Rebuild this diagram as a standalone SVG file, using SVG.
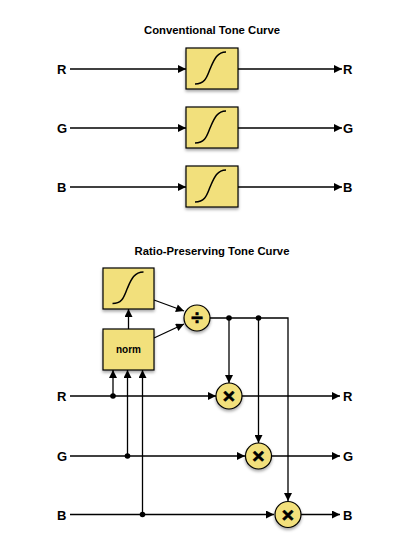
<svg xmlns="http://www.w3.org/2000/svg" width="404" height="535" viewBox="0 0 404 535">
<defs>
<marker id="ah" viewBox="0 0 10 10" refX="10" refY="5" markerWidth="10" markerHeight="8" markerUnits="userSpaceOnUse" orient="auto"><path d="M0,0 L10,5 L0,10 z" fill="#000"/></marker>
<filter id="sh" x="-30%" y="-30%" width="160%" height="170%"><feDropShadow dx="0" dy="2" stdDeviation="1.5" flood-color="#000" flood-opacity="0.35"/></filter>
<style>
.box{fill:#f2e07b;stroke:#000;stroke-width:1.2;filter:url(#sh)}
.crv{fill:none;stroke:#000;stroke-width:1.5}
.ln{fill:none;stroke:#000;stroke-width:1.3}
.arr{marker-end:url(#ah)}
.dot{fill:#000}
.t{font-family:"Liberation Sans",Arial,sans-serif;font-weight:bold;fill:#000}
.title{font-size:11.3px;text-anchor:middle}
.lbl{font-size:13px}
.op{font-size:21px;text-anchor:middle;stroke:#000;stroke-width:0.6}
</style>
</defs>
<text class="t title" x="212" y="34">Conventional Tone Curve</text>
<text class="t title" x="212" y="255">Ratio-Preserving Tone Curve</text>
<g id="connectors">
<line class="ln arr" x1="70" y1="69" x2="186" y2="69"/>
<line class="ln arr" x1="238" y1="69" x2="342" y2="69"/>
<line class="ln arr" x1="70" y1="128" x2="186" y2="128"/>
<line class="ln arr" x1="238" y1="128" x2="342" y2="128"/>
<line class="ln arr" x1="70" y1="187" x2="186" y2="187"/>
<line class="ln arr" x1="238" y1="187" x2="342" y2="187"/>
<line class="ln arr" x1="128.5" y1="329" x2="128.5" y2="309"/>
<line class="ln arr" x1="154" y1="300" x2="184" y2="311"/>
<line class="ln arr" x1="154" y1="338" x2="184" y2="324"/>
<polyline class="ln arr" points="210,318 288,318 288,501"/>
<line class="ln arr" x1="229" y1="318" x2="229" y2="383"/>
<line class="ln arr" x1="258.5" y1="318" x2="258.5" y2="443"/>
<line class="ln arr" x1="70" y1="396" x2="216" y2="396"/>
<line class="ln arr" x1="242" y1="396" x2="340" y2="396"/>
<line class="ln arr" x1="70" y1="456" x2="245" y2="456"/>
<line class="ln arr" x1="271" y1="456" x2="340" y2="456"/>
<line class="ln arr" x1="70" y1="514.5" x2="274" y2="514.5"/>
<line class="ln arr" x1="300" y1="514.5" x2="340" y2="514.5"/>
<line class="ln arr" x1="113" y1="396" x2="113" y2="370"/>
<line class="ln arr" x1="127.5" y1="456" x2="127.5" y2="370"/>
<line class="ln arr" x1="142.5" y1="514.5" x2="142.5" y2="370"/>
<circle class="dot" cx="229" cy="318" r="2.8"/>
<circle class="dot" cx="258.5" cy="318" r="2.8"/>
<circle class="dot" cx="113" cy="396" r="2.8"/>
<circle class="dot" cx="127.5" cy="456" r="2.8"/>
<circle class="dot" cx="142.5" cy="514.5" r="2.8"/>
</g>
<g id="labels">
<text class="t lbl" x="57" y="74">R</text>
<text class="t lbl" x="57" y="133">G</text>
<text class="t lbl" x="57" y="192">B</text>
<text class="t lbl" x="343" y="74">R</text>
<text class="t lbl" x="343" y="133">G</text>
<text class="t lbl" x="343" y="192">B</text>
<text class="t lbl" x="57" y="401">R</text>
<text class="t lbl" x="57" y="461">G</text>
<text class="t lbl" x="57" y="519.5">B</text>
<text class="t lbl" x="343" y="401">R</text>
<text class="t lbl" x="343" y="461">G</text>
<text class="t lbl" x="343" y="519.5">B</text>
</g>
<g id="curveR"><rect class="box" x="186" y="48" width="52" height="41"/><path class="crv" d="M195,84 C206,84 207,76 210.5,68 C214,60 217,52 226,52"/></g>
<g id="curveG"><rect class="box" x="186" y="107" width="52" height="41"/><path class="crv" d="M195,143 C206,143 207,135 210.5,127 C214,119 217,111 226,111"/></g>
<g id="curveB"><rect class="box" x="186" y="166" width="52" height="41"/><path class="crv" d="M195,202 C206,202 207,194 210.5,186 C214,178 217,170 226,170"/></g>
<g id="tone"><rect class="box" x="103" y="268" width="51" height="41"/><path class="crv" d="M112.5,303.5 C123,303.5 124,296 127.5,288 C131,280 134,272 143.5,272"/></g>
<g id="norm"><rect class="box" x="103" y="329" width="51" height="41"/><text class="t" x="128.5" y="353" font-size="10" text-anchor="middle">norm</text></g>
<g id="divide"><circle class="box" cx="197" cy="318" r="13"/><text class="t op" x="197" y="325">÷</text></g>
<g id="mulR"><circle class="box" cx="229" cy="396" r="13"/><text class="t op" x="229" y="403">×</text></g>
<g id="mulG"><circle class="box" cx="258.5" cy="456" r="13"/><text class="t op" x="258.5" y="463">×</text></g>
<g id="mulB"><circle class="box" cx="288" cy="514.5" r="13"/><text class="t op" x="288" y="521.5">×</text></g>
</svg>
